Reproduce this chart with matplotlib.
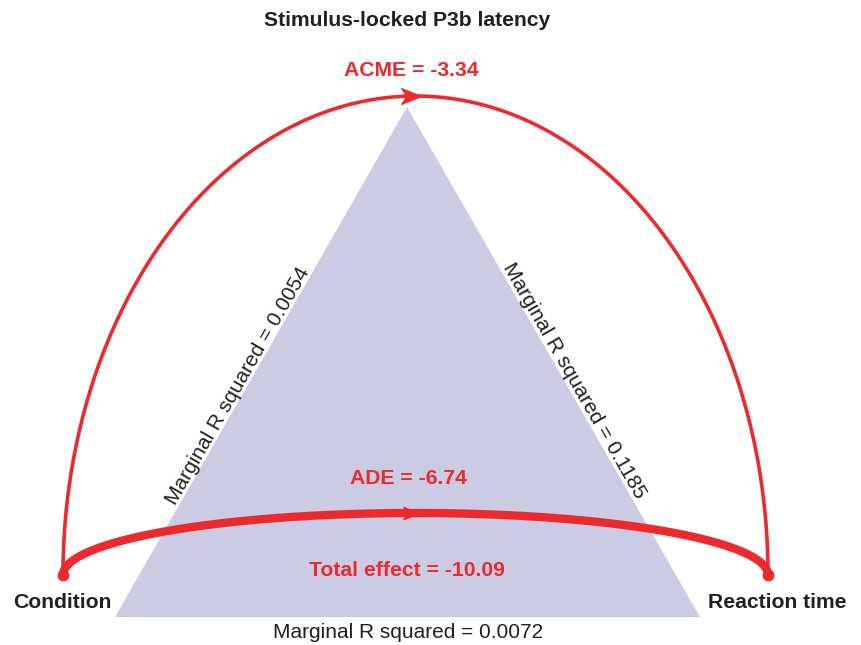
import numpy as np
import matplotlib.pyplot as plt
from matplotlib.path import Path
from matplotlib.patches import Polygon

# -----------------------------
# Diagram content
# -----------------------------
TITLE = "Stimulus-locked P3b latency"
NODE_LABELS = ["Condition", "Reaction time"]
EFFECT_NAMES = ["ACME", "ADE", "Total effect"]
EFFECT_VALUES = [-3.34, -6.74, -10.09]
EDGE_NAMES = ["Condition-mediator", "Mediator-outcome", "Condition-outcome"]
MARGINAL_R2 = [0.0054, 0.1185, 0.0072]

# -----------------------------
# Layout (pixel space, y down)
# -----------------------------
W, H = 862, 645
APEX = (407, 107)
BASE_L = (115, 617)
BASE_R = (700, 617)
ARC_CENTER = (415.5, 575)
ARC_A = 352.5
ARC_B_TOP = 479
ARC_B_LOW = 62

RED = "#ec2a2e"
TRI = "#cbcbe3"
DARK = "#231f20"
FONT = "Liberation Sans"
BOLD_SIZE = 15.2
REG_SIZE = 15.0

plt.rcParams["font.family"] = [FONT, "DejaVu Sans"]

fig = plt.figure(figsize=(W / 100, H / 100), dpi=100)
ax = fig.add_axes([0, 0, 1, 1])
ax.set_xlim(0, W)
ax.set_ylim(H, 0)
ax.axis("off")

# triangle
ax.add_patch(Polygon([APEX, BASE_L, BASE_R], closed=True, facecolor=TRI,
                     edgecolor="none", zorder=1))

# notched arrow head marker
arrow_marker = Path([(-1, -0.8), (1, 0), (-1, 0.8), (-0.45, 0), (-1, -0.8)],
                    [Path.MOVETO, Path.LINETO, Path.LINETO, Path.LINETO, Path.CLOSEPOLY])


def draw_arc(b, lw, msize):
    t = np.linspace(np.pi, 0, 400)
    x = ARC_CENTER[0] + ARC_A * np.cos(t)
    y = ARC_CENTER[1] - b * np.sin(t)
    ax.plot(x, y, color=RED, lw=lw, solid_capstyle="round", zorder=3)
    ax.plot([ARC_CENTER[0] - 4], [ARC_CENTER[1] - b], marker=arrow_marker,
            ms=msize, color=RED, mec=RED, zorder=4)


draw_arc(ARC_B_TOP, 2.6, 14)
draw_arc(ARC_B_LOW, 6.0, 11)

# end dots
for sx in (-1, 1):
    ax.plot([ARC_CENTER[0] + sx * ARC_A], [ARC_CENTER[1]], "o", color=RED,
            ms=7.5, zorder=5)

# texts
ax.text(407, 21, TITLE, ha="center", va="center", fontsize=BOLD_SIZE,
        fontweight="bold", color=DARK)
ax.text(411, 71, f"{EFFECT_NAMES[0]} = {EFFECT_VALUES[0]:.2f}", ha="center",
        va="center", fontsize=BOLD_SIZE, fontweight="bold", color=RED)
ax.text(408, 478, f"{EFFECT_NAMES[1]} = {EFFECT_VALUES[1]:.2f}", ha="center",
        va="center", fontsize=BOLD_SIZE, fontweight="bold", color=RED)
ax.text(407, 571, f"{EFFECT_NAMES[2]} = {EFFECT_VALUES[2]:.2f}", ha="center",
        va="center", fontsize=BOLD_SIZE, fontweight="bold", color=RED)
ax.text(62, 602, NODE_LABELS[0], ha="center", va="center", fontsize=BOLD_SIZE,
        fontweight="bold", color=DARK)
ax.text(777, 602, NODE_LABELS[1], ha="center", va="center", fontsize=BOLD_SIZE,
        fontweight="bold", color=DARK)


# labels sitting on the triangle's slanted sides
def edge_label(p0, p1, frac, text, gap=3):
    p0, p1 = np.array(p0, float), np.array(p1, float)
    d = (p1 - p0) / np.hypot(*(p1 - p0))
    n = np.array([d[1], -d[0]])  # points away from the triangle (screen up)
    pos = p0 + frac * (p1 - p0) + gap * n
    ang = -np.degrees(np.arctan2(d[1], d[0]))
    ax.text(pos[0], pos[1], text, ha="center", va="baseline", rotation=ang,
            rotation_mode="anchor", fontsize=REG_SIZE, color=DARK)


edge_label(BASE_L, APEX, 0.445, f"Marginal R squared = {MARGINAL_R2[0]}")
edge_label(APEX, BASE_R, 0.545, f"Marginal R squared = {MARGINAL_R2[1]}")
ax.text(408, 633, f"Marginal R squared = {MARGINAL_R2[2]}", ha="center",
        va="center", fontsize=REG_SIZE, color=DARK)

fig.savefig("out.png", dpi=100)
